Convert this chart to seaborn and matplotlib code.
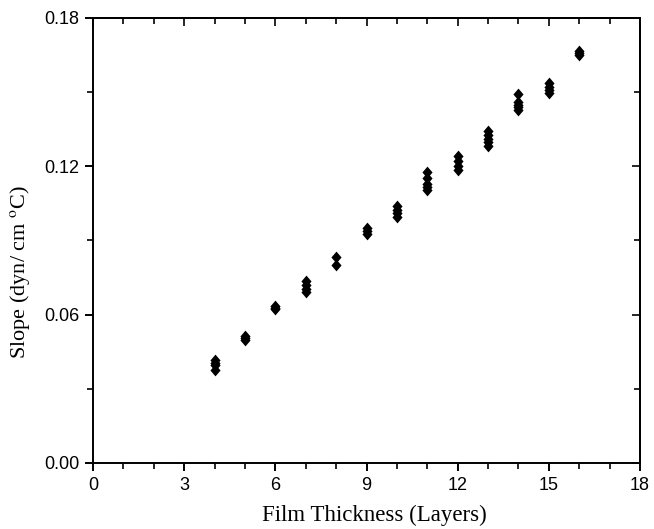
import matplotlib
matplotlib.use("Agg")
import matplotlib.pyplot as plt
from matplotlib.path import Path
from matplotlib.ticker import MultipleLocator
import seaborn as sns
import pandas as pd

# slope readings for each film thickness (several repeats per thickness)
layers_4 = [0.0417, 0.0405, 0.0395, 0.0378]
layers_5 = [0.0512, 0.0505, 0.0498]
layers_6 = [0.0635, 0.0628, 0.0622]
layers_7 = [0.0736, 0.0720, 0.0704, 0.0692]
layers_8 = [0.0833, 0.0801]
layers_9 = [0.0951, 0.0938, 0.0926]
layers_10 = [0.1040, 0.1023, 0.1011, 0.0995]
layers_11 = [0.1177, 0.1153, 0.1130, 0.1118, 0.1105]
layers_12 = [0.1242, 0.1222, 0.1201, 0.1185]
layers_13 = [0.1343, 0.1327, 0.1310, 0.1298, 0.1282]
layers_14 = [0.1494, 0.1462, 0.1450, 0.1438, 0.1428]
layers_15 = [0.1537, 0.1521, 0.1509, 0.1497]
layers_16 = [0.1667, 0.1658, 0.1650]

thickness = [4, 5, 6, 7, 8, 9, 10, 11, 12, 13, 14, 15, 16]
slopes = [layers_4, layers_5, layers_6, layers_7, layers_8, layers_9, layers_10,
          layers_11, layers_12, layers_13, layers_14, layers_15, layers_16]

rows = []
for t, vals in zip(thickness, slopes):
  for v in vals:
    rows.append({'Layers': t, 'Slope': v})
df = pd.DataFrame(rows)

sns.set_theme(style="ticks")
plt.rcParams['font.family'] = ['Liberation Sans', 'DejaVu Sans']
plt.rcParams['mathtext.fontset'] = 'stix'

fig = plt.figure(figsize=(6.54, 5.29), dpi=100)
ax = fig.add_axes([0.1422, 0.1248, 0.8364, 0.8412])

# slightly tall diamond like the original
diamond = Path([(0, 1), (0.86, 0), (0, -1), (-0.86, 0), (0, 1)],
               [Path.MOVETO, Path.LINETO, Path.LINETO, Path.LINETO, Path.CLOSEPOLY])
sns.scatterplot(data=df, x='Layers', y='Slope', marker=diamond, s=72,
                color='black', edgecolor='black', linewidth=0, ax=ax, zorder=3)

ax.set_xlim(0, 18)
ax.set_ylim(0, 0.18)
ax.xaxis.set_major_locator(MultipleLocator(3))
ax.xaxis.set_minor_locator(MultipleLocator(1))
ax.yaxis.set_major_locator(MultipleLocator(0.06))
ax.yaxis.set_minor_locator(MultipleLocator(0.03))
ax.yaxis.set_major_formatter(matplotlib.ticker.FormatStrFormatter('%.2f'))

for sp in ax.spines.values():
  sp.set_visible(True)
  sp.set_linewidth(1.4)
  sp.set_color('black')

ax.tick_params(which='major', direction='out', length=6, width=1.4, labelsize=13,
               colors='black', pad=4)
ax.tick_params(which='minor', direction='out', length=4, width=1.4)

# mirrored axes on top/right with inward ticks, no labels
top = ax.secondary_xaxis('top')
top.xaxis.set_major_locator(MultipleLocator(3))
top.xaxis.set_minor_locator(MultipleLocator(1))
top.tick_params(which='major', direction='in', length=6, width=1.4, labeltop=False)
top.tick_params(which='minor', direction='in', length=4, width=1.4)
top.spines['top'].set_linewidth(1.4)
right = ax.secondary_yaxis('right')
right.yaxis.set_major_locator(MultipleLocator(0.06))
right.yaxis.set_minor_locator(MultipleLocator(0.03))
right.tick_params(which='major', direction='in', length=6, width=1.4, labelright=False)
right.tick_params(which='minor', direction='in', length=4, width=1.4)
right.spines['right'].set_linewidth(1.4)

ax.set_xlabel('Film Thickness (Layers)', family=['Liberation Serif', 'DejaVu Serif'],
              fontsize=16.5, color='black')
ax.xaxis.set_label_coords(0.514, -0.094)
ax.set_ylabel('Slope (dyn/ cm $^\\mathrm{o}$C)', family=['Liberation Serif', 'DejaVu Serif'],
              fontsize=16, color='black')
ax.yaxis.set_label_coords(-0.112, 0.43)

fig.savefig('out.png', dpi=100)
